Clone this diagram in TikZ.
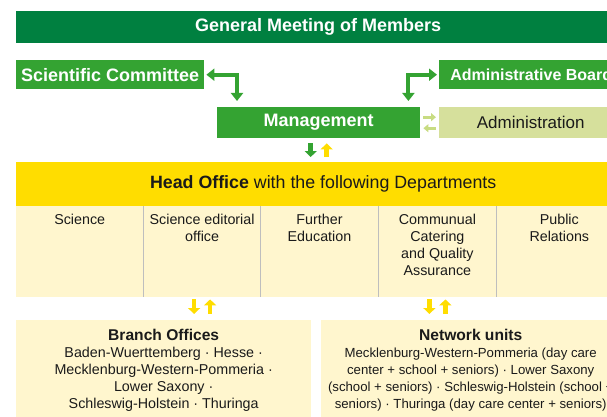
\documentclass[tikz,border=0pt]{standalone}
\usepackage{fontspec}
\setmainfont{Liberation Sans}
\usetikzlibrary{arrows.meta,calc,positioning}

\definecolor{gmgreen}{RGB}{0,128,64}
\definecolor{mgreen}{RGB}{52,163,50}
\definecolor{admgreen}{RGB}{214,224,156}
\definecolor{palegreen}{RGB}{200,220,130}
\definecolor{hoyellow}{RGB}{255,221,0}
\definecolor{cream}{RGB}{255,246,206}
\definecolor{divgrey}{RGB}{190,190,190}
\definecolor{txt}{RGB}{26,26,26}

\tikzset{
    box/.style={rectangle, inner sep=0pt, anchor=north west},
    greenbox/.style={box, fill=mgreen, text=white, font=\fontsize{18}{21}\selectfont\bfseries},
    col/.style={box, fill=cream, minimum height=91pt},
    deptxt/.style={anchor=north, inner sep=0pt, align=center, text=txt, font=\fontsize{14.3}{17}\selectfont},
    elbow/.style={draw=mgreen, line width=4pt, line join=miter,
        {Triangle[width=12pt,length=8pt]}-{Triangle[width=12pt,length=8pt]}},
    palearrow/.style={draw=palegreen, line width=3pt, -{Triangle[width=8pt,length=5pt]},
        shorten <=3pt, shorten >=3pt},
    smallarrow/.style={line width=4.5pt, -{Triangle[width=12pt,length=6pt]}},
}

\begin{document}
\begin{tikzpicture}[x=1pt, y=-1pt]
    \useasboundingbox (0,0) rectangle (607,417);
    \clip (0,0) rectangle (607,417);

    % top level
    \node[box, fill=gmgreen, text=white, font=\fontsize{18}{21}\selectfont\bfseries,
        minimum width=604pt, minimum height=32pt] (gm) at (16,11) {General Meeting of Members};
    \node[greenbox, minimum width=188pt, minimum height=29pt] (sc) at (16,60) {Scientific Committee};
    \node[greenbox, font=\fontsize{16}{19}\selectfont\bfseries,
        minimum width=184pt, minimum height=29pt] (ab) at (439,60) {Administrative Board};
    \node[greenbox, minimum width=203pt, minimum height=31pt] (mg) at (217,107) {Management};
    \node[box, fill=admgreen, text=txt, font=\fontsize{17}{20}\selectfont,
        minimum width=183pt, minimum height=31pt] (adm) at (439,107) {Administration};

    % head office
    \node[box, fill=hoyellow, text=txt, font=\fontsize{17.8}{21}\selectfont,
        minimum width=614pt, minimum height=44pt] (ho) at (16,162) {\textbf{Head Office} with the following Departments};
    \node[col, minimum width=127pt] (c1) at (16,206) {};
    \node[col, minimum width=117pt, right=0pt of c1] (c2) {};
    \node[col, minimum width=117pt, right=0pt of c2] (c3) {};
    \node[col, minimum width=118pt, right=0pt of c3] (c4) {};
    \node[col, minimum width=125pt, right=0pt of c4] (c5) {};
    \foreach \c in {c1,c2,c3,c4}
        \draw[divgrey, line width=1pt] (\c.north east) -- (\c.south east);
    \node[deptxt] (t1) at ([yshift=-7.5pt]c1.north) {Science};
    \node[deptxt] (t2) at ([yshift=-7.5pt]c2.north) {Science editorial\\office};
    \node[deptxt] (t3) at ([yshift=-7.5pt]c3.north) {Further\\Education};
    \node[deptxt] (t4) at ([yshift=-7.5pt]c4.north) {Communual\\Catering\\and Quality\\Assurance};
    \node[deptxt] (t5) at ([yshift=-7.5pt]c5.north) {Public\\Relations};

    % branch offices and network units
    \node[col, minimum width=295pt, minimum height=105pt] (br) at (16,320) {};
    \node[col, minimum width=299pt, minimum height=105pt] (nw) at (321,320) {};
    \node[deptxt] (brt) at ([yshift=-9pt]br.north) {{\fontsize{15.6}{17}\selectfont\bfseries Branch Offices}\\
        Baden-Wuerttemberg · Hesse ·\\Mecklenburg-Western-Pommeria ·\\Lower Saxony ·\\Schleswig-Holstein · Thuringa};
    \node[deptxt, font=\fontsize{13.2}{17}\selectfont] (nwt) at ([yshift=-9pt]nw.north) {{\fontsize{15.6}{17}\selectfont\bfseries Network units}\\
        Mecklenburg-Western-Pommeria (day care\\center + school + seniors) · Lower Saxony\\
        (school + seniors) · Schleswig-Holstein (school +\\seniors) · Thuringa (day care center + seniors)};

    % connectors
    \draw[elbow, shorten <=2pt, shorten >=6pt] (sc.east) -| ($(mg.north west)+(20,0)$);
    \draw[elbow, shorten <=2pt, shorten >=6pt] (ab.west) -| ($(mg.north east)+(-12,0)$);
    \draw[palearrow] ([yshift=5.5pt]mg.east) -- ([yshift=5.5pt]adm.west);
    \draw[palearrow] ([yshift=-5.5pt]adm.west) -- ([yshift=-5.5pt]mg.east);
    \draw[smallarrow, mgreen, shorten <=5pt, shorten >=5pt] ([xshift=-8pt]mg.south) -- ([xshift=-8pt]mg.south |- ho.north);
    \draw[smallarrow, hoyellow, shorten <=5pt, shorten >=5pt] ([xshift=8pt]mg.south |- ho.north) -- ([xshift=8pt]mg.south);
    \foreach \c/\b in {c2/br,c4/nw}{
        \draw[smallarrow, hoyellow, shorten <=2pt, shorten >=6pt] ([xshift=-8pt]\c.south) -- ([xshift=-8pt]\c.south |- \b.north);
        \draw[smallarrow, hoyellow, shorten <=6pt, shorten >=2pt] ([xshift=8pt]\c.south |- \b.north) -- ([xshift=8pt]\c.south);
    }
\end{tikzpicture}
\end{document}
